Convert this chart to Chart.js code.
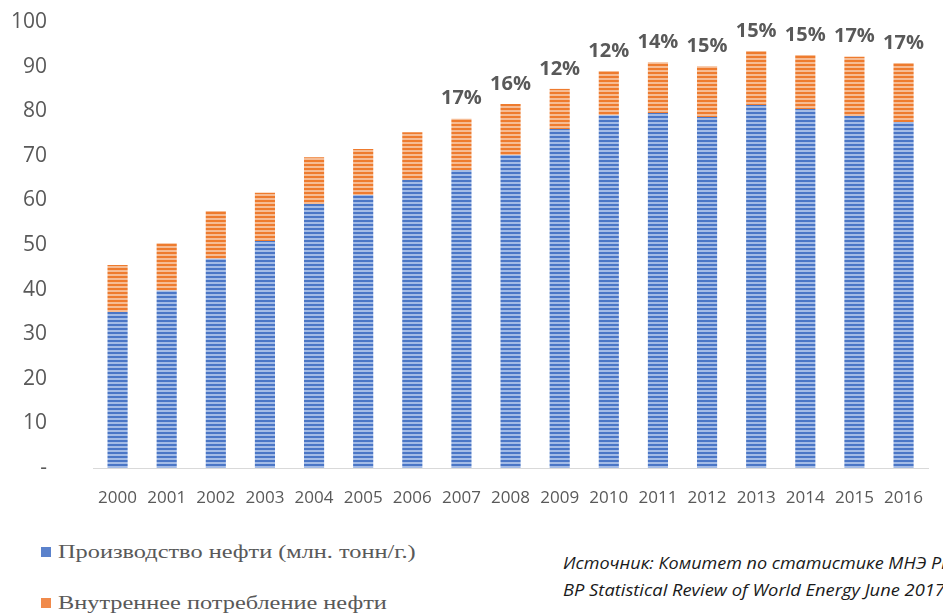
<!DOCTYPE html>
<html lang="ru">
<head>
<meta charset="utf-8">
<script src="https://cdn.jsdelivr.net/npm/chart.js@4/dist/chart.umd.min.js"></script>
<style>
  html, body { margin: 0; padding: 0; background: #fff; overflow: hidden; }
  body { width: 943px; height: 613px; position: relative; }
  #wrap { position: absolute; left: 0; top: 0; width: 943px; height: 520px; }
  .legend-item { position: absolute; left: 41px; font-family: "Liberation Serif", serif; font-size: 19px; color: #595959; white-space: nowrap; line-height: 22px; }
  .legend-item i { display: inline-block; width: 10px; height: 10px; margin-right: 7px; vertical-align: 1px; }
  .legend-item span { display: inline-block; transform: scaleX(1.28); transform-origin: left center; }
  .source { position: absolute; left: 563px; font-family: "Open Sans", sans-serif; font-style: italic; font-size: 16px; color: #1a1a1a; white-space: nowrap; line-height: 20px; transform: scaleX(1.125); transform-origin: left center; }
</style>
</head>
<body>
<div id="wrap"><canvas id="oilChart"></canvas></div>
<div class="legend-item" style="top:541px"><i style="background:#5B82CC"></i><span>Производство нефти (млн. тонн/г.)</span></div>
<div class="legend-item" style="top:592px"><i style="background:#F08A4B"></i><span>Внутреннее потребление нефти</span></div>
<div class="source" style="top:553px">Источник: Комитет по статистике МНЭ РК,</div>
<div class="source" style="top:580px; transform: scaleX(1.145)">BP Statistical Review of World Energy June 2017</div>
<script>
// values
const years = ['2000','2001','2002','2003','2004','2005','2006','2007','2008','2009','2010','2011','2012','2013','2014','2015','2016'];
const production = [35.0, 39.8, 46.9, 50.9, 59.2, 61.2, 64.6, 66.8, 70.2, 76.0, 79.1, 79.6, 78.7, 81.4, 80.5, 78.9, 77.6];
const consumption = [10.5, 10.6, 10.7, 10.8, 10.5, 10.3, 10.7, 11.5, 11.4, 9.0, 9.9, 11.4, 11.4, 12.1, 12.1, 13.3, 13.2];
const shareLabels = ['', '', '', '', '', '', '', '17%', '16%', '12%', '12%', '14%', '15%', '15%', '15%', '17%', '17%'];
const yTicks = [0, 10, 20, 30, 40, 50, 60, 70, 80, 90, 100];

function stripes(base, light) {
  const c = document.createElement('canvas');
  c.width = 4; c.height = 4;
  const g = c.getContext('2d');
  g.fillStyle = base; g.fillRect(0, 0, 4, 4);
  g.fillStyle = light; g.fillRect(0, 2, 4, 2);
  return g.createPattern(c, 'repeat');
}

// percentage labels over the stacked bars
const topLabels = {
  id: 'topLabels',
  afterDatasetsDraw(chart) {
    const ctx = chart.ctx;
    const meta = chart.getDatasetMeta(1);
    ctx.save();
    ctx.font = 'bold 20px "Open Sans", sans-serif';
    ctx.fillStyle = '#595959';
    ctx.textAlign = 'center';
    ctx.textBaseline = 'middle';
    meta.data.forEach((bar, i) => {
      if (shareLabels[i]) ctx.fillText(shareLabels[i], bar.x, bar.y - 20);
    });
    ctx.restore();
  }
};

const ctx = document.getElementById('oilChart').getContext('2d');
new Chart(ctx, {
  type: 'bar',
  data: {
    labels: years,
    datasets: [
      { label: 'Производство нефти (млн. тонн/г.)', data: production,
        backgroundColor: stripes('#4A76C6', '#A3BBE6'), borderWidth: 0 },
      { label: 'Внутреннее потребление нефти', data: consumption,
        backgroundColor: stripes('#EE7B2E', '#F6BC94'), borderWidth: 0 }
    ]
  },
  options: {
    responsive: true,
    maintainAspectRatio: false,
    animation: false,
    layout: { padding: { top: 22, bottom: 10, left: 0, right: 0 } },
    datasets: { bar: { categoryPercentage: 1, barPercentage: 0.41 } },
    plugins: { legend: { display: false }, tooltip: { enabled: false } },
    scales: {
      x: {
        stacked: true,
        afterFit(scale) { scale.height = 42; scale.paddingBottom = 0; },
        grid: { display: false, drawTicks: false },
        border: { display: true, color: '#D9D9D9', width: 1 },
        ticks: { color: '#595959', font: { family: 'Open Sans', size: 17 }, padding: 20, maxRotation: 0 }
      },
      y: {
        stacked: true,
        min: 0, max: 100,
        afterFit(scale) {
          // wide gap between labels and bars, but no extra top/bottom room
          scale.width = 93;
          scale.paddingTop = 0;
          scale.paddingBottom = 0;
        },
        afterBuildTicks(scale) { scale.ticks = yTicks.map(v => ({ value: v })); },
        grid: { display: false, drawTicks: false },
        border: { display: false },
        ticks: {
          color: '#595959', font: { family: 'Open Sans', size: 21 }, padding: 46,
          callback: v => v === 0 ? '-' : v
        }
      }
    }
  },
  plugins: [topLabels]
});
</script>
</body>
</html>
